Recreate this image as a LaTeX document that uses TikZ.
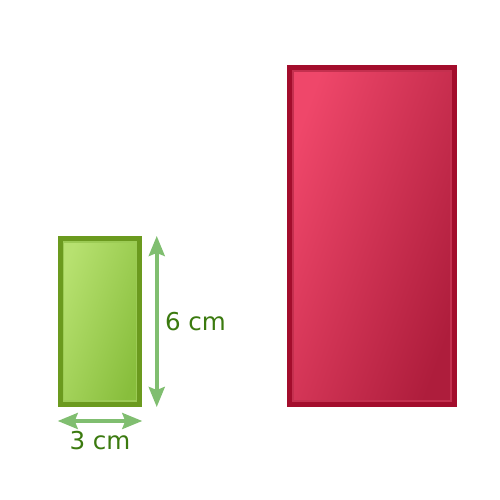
\documentclass[tikz,border=0pt]{standalone}
\usepackage{fontspec}
\setmainfont{DejaVu Sans}
\usetikzlibrary{arrows.meta, positioning}
\definecolor{grnedge}{HTML}{6B9A1E}
\definecolor{grnhi}{HTML}{9CCB55}
\definecolor{grnlight}{HTML}{B7E170}
\definecolor{grndark}{HTML}{88BE3C}
\definecolor{grnarrow}{HTML}{80BE70}
\definecolor{grntext}{HTML}{3B7A0F}
\definecolor{rededge}{HTML}{A30D2C}
\definecolor{redhi}{HTML}{C4304F}
\definecolor{redlight}{HTML}{EF476A}
\definecolor{reddark}{HTML}{AE1D3C}

\begin{document}
\begin{tikzpicture}[
			shape box/.style={
					draw,
					rectangle,
					inner sep=0pt,
					line width=0.11cm
				},
			dim arrow/.style={
					{Stealth[width=0.32cm, length=0.4cm, inset=0.06cm]}-{Stealth[width=0.32cm, length=0.4cm, inset=0.06cm]},
					draw=grnarrow,
					line width=0.07cm
				},
			dim label/.style={
					text=grntext,
					font=\fontsize{14}{17}\selectfont,
					inner sep=2pt
				}
		]
		\useasboundingbox (0, 0) rectangle (10, 10);

		% the small rectangle
		\node[
			shape box,
			draw=grnedge,
			left color=grnlight,
			right color=grndark,
			shading angle=70,
			minimum width=1.58cm,
			minimum height=3.31cm
		] (small) at (2.0, 3.57) {};
		\draw[grnhi, line width=0.025cm]
		([shift={(0.12, -0.12)}]small.north west) rectangle ([shift={(-0.12, 0.12)}]small.south east);

		% the big rectangle
		\node[
			shape box,
			draw=rededge,
			left color=redlight,
			right color=reddark,
			shading angle=70,
			minimum width=3.29cm,
			minimum height=6.73cm
		] (big) at (7.44, 5.28) {};
		\draw[redhi, line width=0.025cm]
		([shift={(0.12, -0.12)}]big.north west) rectangle ([shift={(-0.12, 0.12)}]big.south east);

		% the sides
		\coordinate (htop) at ([xshift=0.29cm]small.north east);
		\coordinate (hbot) at ([xshift=0.29cm]small.south east);
		\coordinate (wleft) at ([yshift=-0.28cm]small.south west);
		\coordinate (wright) at ([yshift=-0.28cm]small.south east);

		\draw[dim arrow] (htop) -- (hbot) node[midway, right=0.06cm, dim label] (hlabel) {6 cm};
		\draw[dim arrow] (wleft) -- (wright) node[midway, below=0.09cm, dim label] (wlabel) {3 cm};
	\end{tikzpicture}
\end{document}
